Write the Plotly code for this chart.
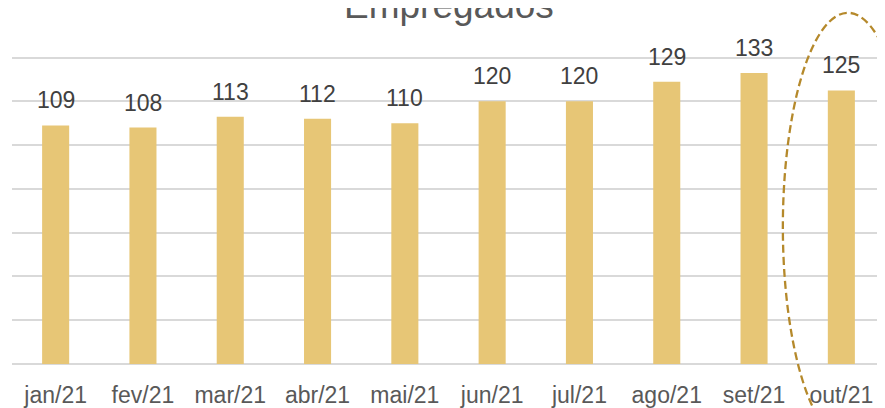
import plotly.graph_objects as go

categories = ["jan/21", "fev/21", "mar/21", "abr/21", "mai/21", "jun/21", "jul/21", "ago/21", "set/21", "out/21"]
values = [109, 108, 113, 112, 110, 120, 120, 129, 133, 125]
title_text = "Empregados"

FONT = "Liberation Sans, Arial, sans-serif"
BAR_COLOR = "#E7C676"
GRID = "#D9D9D9"

fig = go.Figure()
fig.add_trace(go.Bar(x=categories, y=values, marker=dict(color=BAR_COLOR, line=dict(width=0)),
                     hoverinfo="skip"))

for c, v in zip(categories, values):
    fig.add_annotation(x=c, y=v, text=str(v), showarrow=False, yanchor="bottom",
                       yshift=10, font=dict(family=FONT, size=23, color="#404040"))

# plot area height 313.1 px for 0..143
fig.add_annotation(x=0.5, y=1.145, xref="paper", yref="paper", text=title_text,
                   showarrow=False, yanchor="middle",
                   font=dict(family=FONT, size=37, color="#595959"))

fig.add_shape(type="circle", xref="paper", yref="paper",
              x0=0.883, x1=1.032, y0=-0.246, y1=1.122,
              line=dict(color="#B5892B", width=2.3, dash="8px,4px"))

fig.update_layout(
    width=885, height=408,
    margin=dict(l=4, r=8, t=42.9, b=52, autoexpand=False),
    paper_bgcolor="white", plot_bgcolor="white",
    bargap=0.69, showlegend=False,
    xaxis=dict(showgrid=False, showline=False, zeroline=False,
               tickfont=dict(family=FONT, size=23, color="#595959"),
               ticks="outside", ticklen=10, tickcolor="rgba(0,0,0,0)"),
    yaxis=dict(range=[0, 143], tick0=0, dtick=20, showgrid=True, gridcolor=GRID, gridwidth=1.5,
               zeroline=True, zerolinecolor=GRID, zerolinewidth=1.5,
               showticklabels=False, showline=False),
)

fig.write_html("out.html")
